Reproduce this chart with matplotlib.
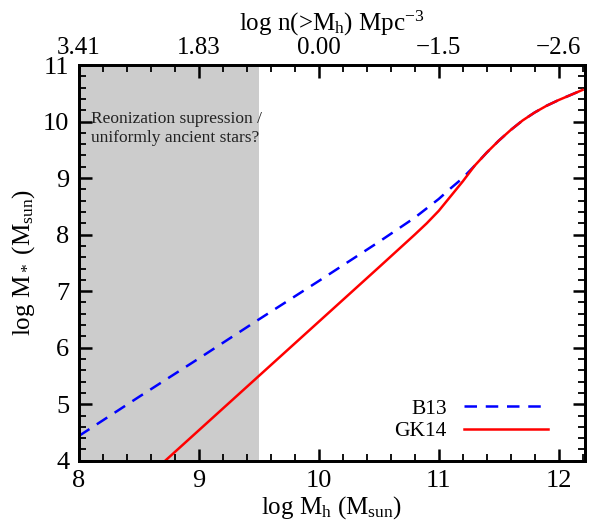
import numpy as np
import matplotlib
matplotlib.use("Agg")
from matplotlib import pyplot as plt
from matplotlib.ticker import MultipleLocator, FixedLocator, AutoMinorLocator

plt.rcParams['font.family'] = ['Liberation Serif', 'DejaVu Serif']
plt.rcParams['mathtext.fontset'] = 'custom'
plt.rcParams['mathtext.rm'] = 'Liberation Serif'
plt.rcParams['mathtext.it'] = 'Liberation Serif'

# B13 abundance matching
b13_mh = [8.0, 8.5, 9.0, 9.5, 10.0, 10.5, 10.8, 11.0, 11.1, 11.2, 11.3, 11.4,
          11.5, 11.6, 11.7, 11.8, 11.9, 12.0, 12.1, 12.2]
b13_ms = [4.44, 5.13, 5.81, 6.50, 7.18, 7.87, 8.30, 8.63, 8.82, 9.00, 9.22, 9.45,
          9.66, 9.85, 10.02, 10.16, 10.28, 10.38, 10.47, 10.56]

# GK14 (alpha = 1.92 at low mass)
gk14_mh = [8.5, 9.0, 9.5, 10.0, 10.5, 10.8, 10.9, 11.0, 11.1, 11.2, 11.3, 11.4,
           11.5, 11.6, 11.7, 11.8, 11.9, 12.0, 12.1, 12.2]
gk14_ms = [3.58, 4.54, 5.50, 6.46, 7.42, 8.00, 8.20, 8.42, 8.68, 8.94, 9.22, 9.45,
           9.66, 9.85, 10.02, 10.16, 10.28, 10.38, 10.47, 10.56]

top_ticks = [8, 9, 10, 11, 12]
top_labels = ['3.41', '1.83', '0.00', '\u22121.5', '\u22122.6']

shade_lo, shade_hi = 8.0, 9.5

fig = plt.figure(figsize=(6.01, 5.26), dpi=100)
ax = fig.add_axes([0.1314, 0.124, 0.842, 0.7524])

ax.axvspan(shade_lo, shade_hi, color='#cccccc', lw=0, zorder=0)
ax.plot(b13_mh, b13_ms, color='#0000ff', lw=1.8, dashes=(5, 3.5), label='B13')
ax.plot(gk14_mh, gk14_ms, color='#ff0000', lw=1.8, label='GK14')

ax.text(8.1, 9.88, 'Reonization supression /\nuniformly ancient stars?',
        fontsize=12.5, va='center', ha='left', linespacing=1.3, color='#222222')

ax.set_xlim(8, 12.22)
ax.set_ylim(4.0, 11.0)

ax.set_xlabel(r'log M$_\mathrm{h}$ (M$_\mathrm{sun}$)', fontsize=18, labelpad=1)
ax.set_ylabel(r'log M$_*$ (M$_\mathrm{sun}$)', fontsize=18, labelpad=4)

leg = ax.legend(loc='lower right', bbox_to_anchor=(0.965, 0.0), frameon=False,
                markerfirst=False, fontsize=15.5, handlelength=3.9,
                labelspacing=0.12, handletextpad=0.8)

# top axis: cumulative halo number density
top = ax.twiny()
top.set_xlim(ax.get_xlim())
top.xaxis.set_major_locator(FixedLocator(top_ticks))
top.set_xticklabels(top_labels)
top.set_xlabel(r'log n(>M$_\mathrm{h}$) Mpc$^{-3}$', fontsize=18, labelpad=5)

# ticks last: inward, IDL style, ten minor intervals
ax.xaxis.set_major_locator(MultipleLocator(1))
ax.yaxis.set_major_locator(MultipleLocator(1))
for a, axis in ((ax, ax.xaxis), (ax, ax.yaxis), (top, top.xaxis)):
    axis.set_minor_locator(AutoMinorLocator(10))
ax.minorticks_on()
top.minorticks_on()
top.yaxis.set_visible(False)
ax.tick_params(axis='both', which='major', direction='in', length=9, width=1.8,
               labelsize=19, pad=7, right=True, top=False)
ax.tick_params(axis='both', which='minor', direction='in', length=5, width=1.3,
               right=True, top=False)
top.tick_params(axis='x', which='major', direction='in', length=9, width=1.8,
                labelsize=18, pad=4)
top.tick_params(axis='x', which='minor', direction='in', length=5, width=1.3)
for s in list(ax.spines.values()) + list(top.spines.values()):
    s.set_linewidth(2.0)

fig.savefig('out.png', dpi=100)
